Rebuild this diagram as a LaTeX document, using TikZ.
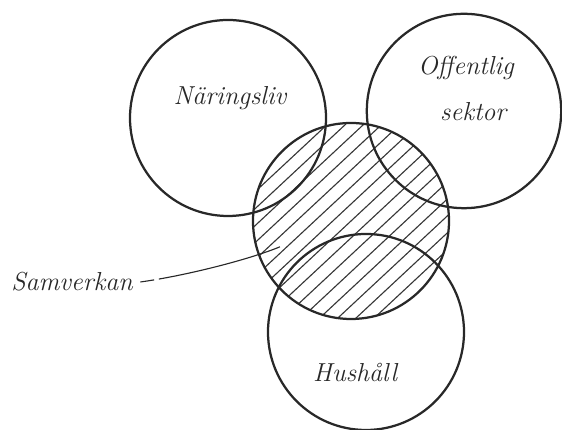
\documentclass[tikz,border=0pt]{standalone}
\usepackage{xcolor}
\usepackage{tikz}
\usetikzlibrary{arrows.meta, positioning}
\definecolor{inkdark}{RGB}{40, 40, 40}
\definecolor{inkhatch}{RGB}{55, 55, 55}

\begin{document}
\begin{tikzpicture}[font=\fontsize{18.5}{22}\selectfont\itshape,
    ring/.style={circle, draw=inkdark, line width=1.6pt, minimum size=4.9cm, inner sep=0pt},
    hatchline/.style={draw=inkhatch, line width=0.8pt},
    label/.style={text=inkdark, align=center, inner sep=1pt}]
  \useasboundingbox (0,0) rectangle (14.05,10.75);

  % the hatched middle part
  \begin{scope}
    \clip (8.775,5.225) circle (2.45);
    \foreach \d in {-2.48,-2.17,...,2.6}
      \draw[hatchline, shift={(8.775,5.225)}, rotate=43] (-3,\d) -- (3,\d);
  \end{scope}

  \node[ring] (naring) at (5.70,7.80) {};
  \node[ring, minimum size=4.86cm] (offentlig) at (11.60,7.975) {};
  \node[ring] (samv) at (8.775,5.225) {};
  \node[ring] (hushall) at (9.15,2.45) {};

  \node[label] (naringtxt) at (5.75,8.3) {Näringsliv};
  \node[label] (offtxt) at (11.65,9.05) {Offentlig};
  \node[label] (sektxt) at (11.83,7.95) {sektor};
  \node[label] (hustxt) at (8.88,1.45) {Hushåll};
  \node[label] (samtxt) at (1.8,3.7) {Samverkan};

  \coordinate (tip) at (7.0,4.58);
  \draw[inkdark, line width=0.8pt, dash pattern=on 0.35cm off 0.12cm on 8cm off 0cm]
    (samtxt.east) ++(0.15,0) .. controls (4.6,3.85) and (6.2,4.25) .. (tip);
\end{tikzpicture}
\end{document}
